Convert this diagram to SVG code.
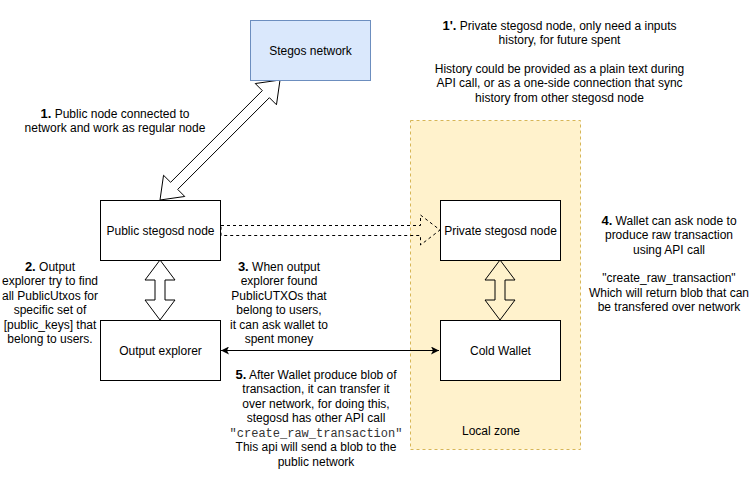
<svg xmlns="http://www.w3.org/2000/svg" width="751" height="491" viewBox="0 0 751 491">
<defs>
<style>
text{font-family:"Liberation Sans",Arial,Helvetica,sans-serif;font-size:12px;fill:#000;text-anchor:middle}
.b{font-weight:bold;font-size:13px}
.mono{font-family:"Liberation Mono","Courier New",monospace;fill:#333}
.node{fill:#fff;stroke:#000;stroke-width:1}
.flex{fill:none;stroke:#000;stroke-width:1;stroke-linejoin:miter}
</style>
<marker id="arr" viewBox="0 0 8 8" refX="8" refY="4" markerWidth="8" markerHeight="8" markerUnits="userSpaceOnUse" orient="auto-start-reverse">
<path d="M0,0 L8,4 L0,8 L2,4 Z" fill="#000"/>
</marker>
</defs>
<rect width="751" height="491" fill="#fff"/>

<g id="local-zone">
<rect x="410.5" y="120.5" width="170" height="329" fill="#fff2cc" stroke="#d6b656" stroke-dasharray="3 3"/>
<text x="491" y="434.5">Local zone</text>
</g>

<g id="connectors">
<path class="flex" d="M160,200 L184.75,196.47 L177.68,189.4 L269.4,97.68 L276.47,104.75 L280,80 L255.25,83.54 L262.32,90.61 L170.61,182.32 L163.54,175.25 Z"/>
<path class="flex" d="M160,260 L175,280 L165,280 L165,300 L175,300 L160,320 L145,300 L155,300 L155,280 L145,280 Z"/>
<path class="flex" d="M500,260 L515,280 L505,280 L505,300 L515,300 L500,320 L485,300 L495,300 L495,280 L485,280 Z"/>
<path class="flex" stroke-dasharray="3 3" d="M221,225.5 L420.5,225.5 L420.5,215 L440,230 L420.5,245 L420.5,235.5 L221,235.5 Z"/>
<line x1="221" y1="350.5" x2="439" y2="350.5" stroke="#000" stroke-width="1" marker-start="url(#arr)" marker-end="url(#arr)"/>
</g>

<g id="stegos-network">
<rect x="250.5" y="20.5" width="120" height="60" fill="#dae8fc" stroke="#6c8ebf"/>
<text x="310.5" y="54.5">Stegos network</text>
</g>

<g id="public-node">
<rect class="node" x="100.5" y="200.5" width="120" height="60"/>
<text x="160.5" y="234.5">Public stegosd node</text>
</g>

<g id="output-explorer">
<rect class="node" x="100.5" y="320.5" width="120" height="60"/>
<text x="160.5" y="354.5">Output explorer</text>
</g>

<g id="private-node">
<rect class="node" x="440.5" y="200.5" width="120" height="60"/>
<text x="500.5" y="234.5">Private stegosd node</text>
</g>

<g id="cold-wallet">
<rect class="node" x="440.5" y="320.5" width="120" height="60"/>
<text x="500.5" y="354.5">Cold Wallet</text>
</g>

<g id="note-1">
<text x="115" y="117.5"><tspan class="b">1.</tspan> Public node connected to</text>
<text x="115" y="132">network and work as regular node</text>
</g>

<g id="note-1b">
<text x="559.5" y="29.5"><tspan class="b">1'.</tspan> Private stegosd node, only need a inputs</text>
<text x="559.5" y="44">history, for future spent</text>
<text x="559.5" y="72.5">History could be provided as a plain text during</text>
<text x="559.5" y="87">API call, or as a one-side connection that sync</text>
<text x="559.5" y="101.5">history from other stegosd node</text>
</g>

<g id="note-2">
<text x="50" y="270.5"><tspan class="b">2.</tspan> Output</text>
<text x="50" y="285">explorer try to find</text>
<text x="50" y="299.5">all PublicUtxos for</text>
<text x="50" y="314">specific set of</text>
<text x="50" y="328.5">[public_keys] that</text>
<text x="50" y="343">belong to users.</text>
</g>

<g id="note-3">
<text x="279" y="270.5"><tspan class="b">3.</tspan> When output</text>
<text x="279" y="285">explorer found</text>
<text x="279" y="299.5">PublicUTXOs that</text>
<text x="279" y="314">belong to users,</text>
<text x="279" y="328.5">it can ask wallet to</text>
<text x="279" y="343">spent money</text>
</g>

<g id="note-4">
<text x="669" y="224.5"><tspan class="b">4.</tspan> Wallet can ask node to</text>
<text x="669" y="239">produce raw transaction</text>
<text x="669" y="253.5">using API call</text>
<text x="669" y="282">"create_raw_transaction"</text>
<text x="669" y="296.5">Which will return blob that can</text>
<text x="669" y="311">be transfered over network</text>
</g>

<g id="note-5">
<text x="316" y="378.5"><tspan class="b">5.</tspan> After Wallet produce blob of</text>
<text x="316" y="393">transaction, it can transfer it</text>
<text x="316" y="407.5">over network, for doing this,</text>
<text x="316" y="422">stegosd has other API call</text>
<text class="mono" x="316" y="436.5">"create_raw_transaction"</text>
<text x="316" y="451">This api will send a blob to the</text>
<text x="316" y="465.5">public network</text>
</g>
</svg>
